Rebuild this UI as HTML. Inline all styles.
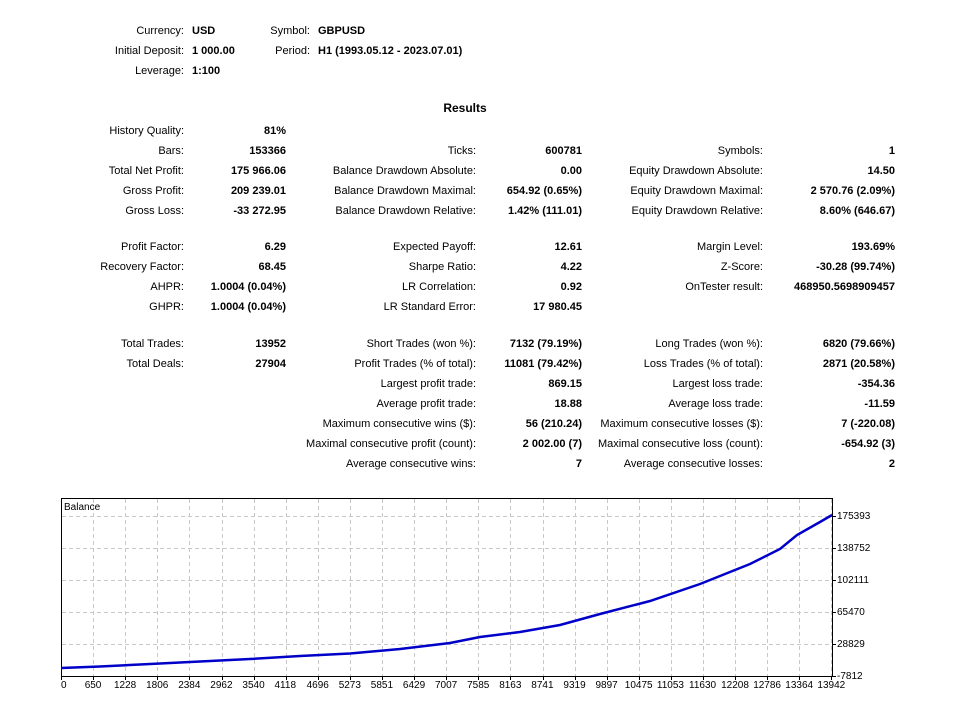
<!DOCTYPE html>
<html><head><meta charset="utf-8"><style>
body{margin:0;width:960px;height:720px;background:#fff;font-family:"Liberation Sans",sans-serif;font-size:11px;color:#000;position:relative;overflow:hidden}
.t{position:absolute;white-space:nowrap;line-height:14px}
.b{font-weight:bold}
</style></head><body>
<div id="c"></div>
<svg width="960" height="720" style="position:absolute;left:0;top:0">
<rect x="61.5" y="498.5" width="771" height="178" fill="#fff" stroke="#000"/>
<g stroke="#c8c8c8" stroke-dasharray="4,3">
<line x1="62" x2="832" y1="516.5" y2="516.5"/><line x1="62" x2="832" y1="548.5" y2="548.5"/><line x1="62" x2="832" y1="580.5" y2="580.5"/><line x1="62" x2="832" y1="612.5" y2="612.5"/><line x1="62" x2="832" y1="644.5" y2="644.5"/>
<g id="vg"></g>
</g>
<g stroke="#000" id="tk"></g>
<polyline fill="none" stroke="#0000c8" stroke-width="2.5" points="61,668 100,666.5 150,664 200,661.5 250,659 300,656 350,653.5 400,649 450,643 480,637 520,632 560,625 600,614 650,601 700,584 750,564 780,549 797,535 820,522 832,515"/>
<text x="64" y="510" font-size="10" font-family="Liberation Sans,sans-serif">Balance</text>
</svg>
<script>
var L=[
[184,24,'Currency:',0,'r'],[192,24,'USD',1,'l'],[310,24,'Symbol:',0,'r'],[318,24,'GBPUSD',1,'l'],
[184,44,'Initial Deposit:',0,'r'],[192,44,'1 000.00',1,'l'],[310,44,'Period:',0,'r'],[318,44,'H1 (1993.05.12 - 2023.07.01)',1,'l'],
[184,64,'Leverage:',0,'r'],[192,64,'1:100',1,'l'],
[184,124,'History Quality:',0,'r'],[286,124,'81%',1,'r'],
[184,144,'Bars:',0,'r'],[286,144,'153366',1,'r'],[476,144,'Ticks:',0,'r'],[582,144,'600781',1,'r'],[763,144,'Symbols:',0,'r'],[895,144,'1',1,'r'],
[184,164,'Total Net Profit:',0,'r'],[286,164,'175 966.06',1,'r'],[476,164,'Balance Drawdown Absolute:',0,'r'],[582,164,'0.00',1,'r'],[763,164,'Equity Drawdown Absolute:',0,'r'],[895,164,'14.50',1,'r'],
[184,184,'Gross Profit:',0,'r'],[286,184,'209 239.01',1,'r'],[476,184,'Balance Drawdown Maximal:',0,'r'],[582,184,'654.92 (0.65%)',1,'r'],[763,184,'Equity Drawdown Maximal:',0,'r'],[895,184,'2 570.76 (2.09%)',1,'r'],
[184,204,'Gross Loss:',0,'r'],[286,204,'-33 272.95',1,'r'],[476,204,'Balance Drawdown Relative:',0,'r'],[582,204,'1.42% (111.01)',1,'r'],[763,204,'Equity Drawdown Relative:',0,'r'],[895,204,'8.60% (646.67)',1,'r'],
[184,240,'Profit Factor:',0,'r'],[286,240,'6.29',1,'r'],[476,240,'Expected Payoff:',0,'r'],[582,240,'12.61',1,'r'],[763,240,'Margin Level:',0,'r'],[895,240,'193.69%',1,'r'],
[184,260,'Recovery Factor:',0,'r'],[286,260,'68.45',1,'r'],[476,260,'Sharpe Ratio:',0,'r'],[582,260,'4.22',1,'r'],[763,260,'Z-Score:',0,'r'],[895,260,'-30.28 (99.74%)',1,'r'],
[184,280,'AHPR:',0,'r'],[286,280,'1.0004 (0.04%)',1,'r'],[476,280,'LR Correlation:',0,'r'],[582,280,'0.92',1,'r'],[763,280,'OnTester result:',0,'r'],[895,280,'468950.5698909457',1,'r'],
[184,300,'GHPR:',0,'r'],[286,300,'1.0004 (0.04%)',1,'r'],[476,300,'LR Standard Error:',0,'r'],[582,300,'17 980.45',1,'r'],
[184,337,'Total Trades:',0,'r'],[286,337,'13952',1,'r'],[476,337,'Short Trades (won %):',0,'r'],[582,337,'7132 (79.19%)',1,'r'],[763,337,'Long Trades (won %):',0,'r'],[895,337,'6820 (79.66%)',1,'r'],
[184,357,'Total Deals:',0,'r'],[286,357,'27904',1,'r'],[476,357,'Profit Trades (% of total):',0,'r'],[582,357,'11081 (79.42%)',1,'r'],[763,357,'Loss Trades (% of total):',0,'r'],[895,357,'2871 (20.58%)',1,'r'],
[476,377,'Largest profit trade:',0,'r'],[582,377,'869.15',1,'r'],[763,377,'Largest loss trade:',0,'r'],[895,377,'-354.36',1,'r'],
[476,397,'Average profit trade:',0,'r'],[582,397,'18.88',1,'r'],[763,397,'Average loss trade:',0,'r'],[895,397,'-11.59',1,'r'],
[476,417,'Maximum consecutive wins ($):',0,'r'],[582,417,'56 (210.24)',1,'r'],[763,417,'Maximum consecutive losses ($):',0,'r'],[895,417,'7 (-220.08)',1,'r'],
[476,437,'Maximal consecutive profit (count):',0,'r'],[582,437,'2 002.00 (7)',1,'r'],[763,437,'Maximal consecutive loss (count):',0,'r'],[895,437,'-654.92 (3)',1,'r'],
[476,457,'Average consecutive wins:',0,'r'],[582,457,'7',1,'r'],[763,457,'Average consecutive losses:',0,'r'],[895,457,'2',1,'r']];
var h='';
L.forEach(function(a){var s=a[4]=='r'?'right:'+(960-a[0])+'px':'left:'+a[0]+'px';h+='<div class="t'+(a[3]?' b':'')+'" style="'+s+';top:'+a[1]+'px">'+a[2]+'</div>';});
h+='<div class="t b" style="left:0;width:930px;text-align:center;top:101px;font-size:12px">Results</div>';
var xs=['0','650','1228','1806','2384','2962','3540','4118','4696','5273','5851','6429','7007','7585','8163','8741','9319','9897','10475','11053','11630','12208','12786','13364','13942'];
var vg='',tk='';
xs.forEach(function(v,i){var x=61+i*32.1;if(i>0)vg+='<line x1="'+(Math.round(x)+.5)+'" x2="'+(Math.round(x)+.5)+'" y1="499" y2="676"/>';tk+='<line x1="'+(Math.round(x)+.5)+'" x2="'+(Math.round(x)+.5)+'" y1="677" y2="680"/>';
h+='<div class="t" style="left:'+(x-(i==0?0:v.length*2.8))+'px;top:679px;font-size:10px">'+v+'</div>';});
['175393','138752','102111','65470','28829','-7812'].forEach(function(v,i){var y=516+i*32;tk+='<line x1="833" x2="836" y1="'+(y+.5)+'" y2="'+(y+.5)+'"/>';h+='<div class="t" style="left:837px;top:'+(y-6)+'px;font-size:10px">'+v+'</div>';});
document.getElementById('c').innerHTML=h;
document.getElementById('vg').innerHTML=vg;document.getElementById('tk').innerHTML=tk;
</script>
</body></html>
